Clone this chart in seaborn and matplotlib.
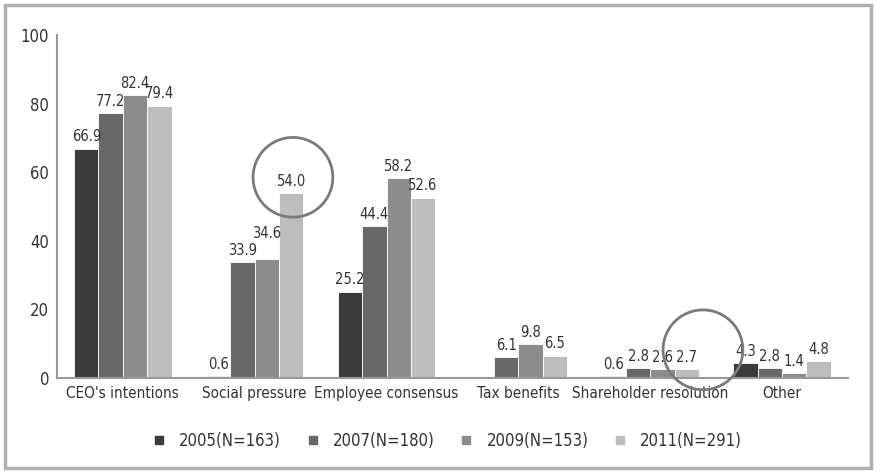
import pandas as pd
import numpy as np
import matplotlib.pyplot as plt
import matplotlib.patches as mpatches
from matplotlib.lines import Line2D
import seaborn as sns

sns.set_style("white")
plt.rcParams['font.family'] = ['DejaVu Sans']
plt.rcParams['font.stretch'] = 'condensed'

categories = ["CEO's intentions", "Social pressure", "Employee consensus",
              "Tax benefits", "Shareholder resolution", "Other"]
years = ["2005(N=163)", "2007(N=180)", "2009(N=153)", "2011(N=291)"]
v2005 = [66.9, 0.6, 25.2, np.nan, 0.6, 4.3]
v2007 = [77.2, 33.9, 44.4, 6.1, 2.8, 2.8]
v2009 = [82.4, 34.6, 58.2, 9.8, 2.6, 1.4]
v2011 = [79.4, 54.0, 52.6, 6.5, 2.7, 4.8]
colors = ["#3b3b3b", "#686868", "#8c8c8c", "#bdbdbd"]

rows = []
for yr, vals in zip(years, [v2005, v2007, v2009, v2011]):
    for cat, v in zip(categories, vals):
        rows.append({'Reason': cat, 'Year': yr, 'Share': v})
df = pd.DataFrame(rows)

fig = plt.figure(figsize=(8.76, 4.73), dpi=100)
ax = fig.add_axes([0.065, 0.201, 0.903, 0.725])

sns.barplot(data=df, x='Reason', y='Share', hue='Year', order=categories,
            hue_order=years, palette=colors, width=0.74, saturation=1,
            edgecolor='white', linewidth=0.6, legend=False, ax=ax)

for cont in ax.containers:
    labels = ax.bar_label(cont, fmt='%.1f', padding=3, fontsize=10.5, color='#333333')
    for t in labels:
        if t.get_text() == '34.6':
            t.xyann = (t.xyann[0], t.xyann[1] + 10)

ax.set_ylim(0, 100)
ax.set_xlim(-0.5, len(categories) - 0.5)
ax.set_yticks([0, 20, 40, 60, 80, 100])
ax.set_xlabel('')
ax.set_ylabel('')
ax.tick_params(axis='y', labelsize=12, colors='#333333', length=4, direction='inout', color='#999999')
ax.tick_params(axis='x', labelsize=11, colors='#333333', length=0, pad=6)
ax.set_xticks(np.arange(-0.5, len(categories)), minor=True)
ax.tick_params(axis='x', which='minor', length=5, direction='inout', color='#999999')
for s in ['top', 'right']:
    ax.spines[s].set_visible(False)
for s in ['left', 'bottom']:
    ax.spines[s].set_color('#999999')
    ax.spines[s].set_linewidth(1.5)

# highlight circles
for cx, cy in [(1.29, 58.5), (4.40, 8.2)]:
    ax.scatter([cx], [cy], s=3300, facecolors='none', edgecolors='#7a7a7a',
               linewidths=2, clip_on=False, zorder=5)

handles = [Line2D([0], [0], marker='s', linestyle='', markersize=6,
                  markerfacecolor=c, markeredgecolor=c) for c in colors]
fig.legend(handles, years, loc='center', bbox_to_anchor=(0.505, 0.068), ncol=4,
           frameon=False, fontsize=12, handletextpad=0.2, columnspacing=0.9,
           labelcolor='#333333')

fig.patches.append(mpatches.Rectangle((0.006, 0.01), 0.988, 0.98, transform=fig.transFigure,
                                      fill=False, edgecolor='#b0b0b0', linewidth=2.5))

fig.savefig('out.png', dpi=100)
